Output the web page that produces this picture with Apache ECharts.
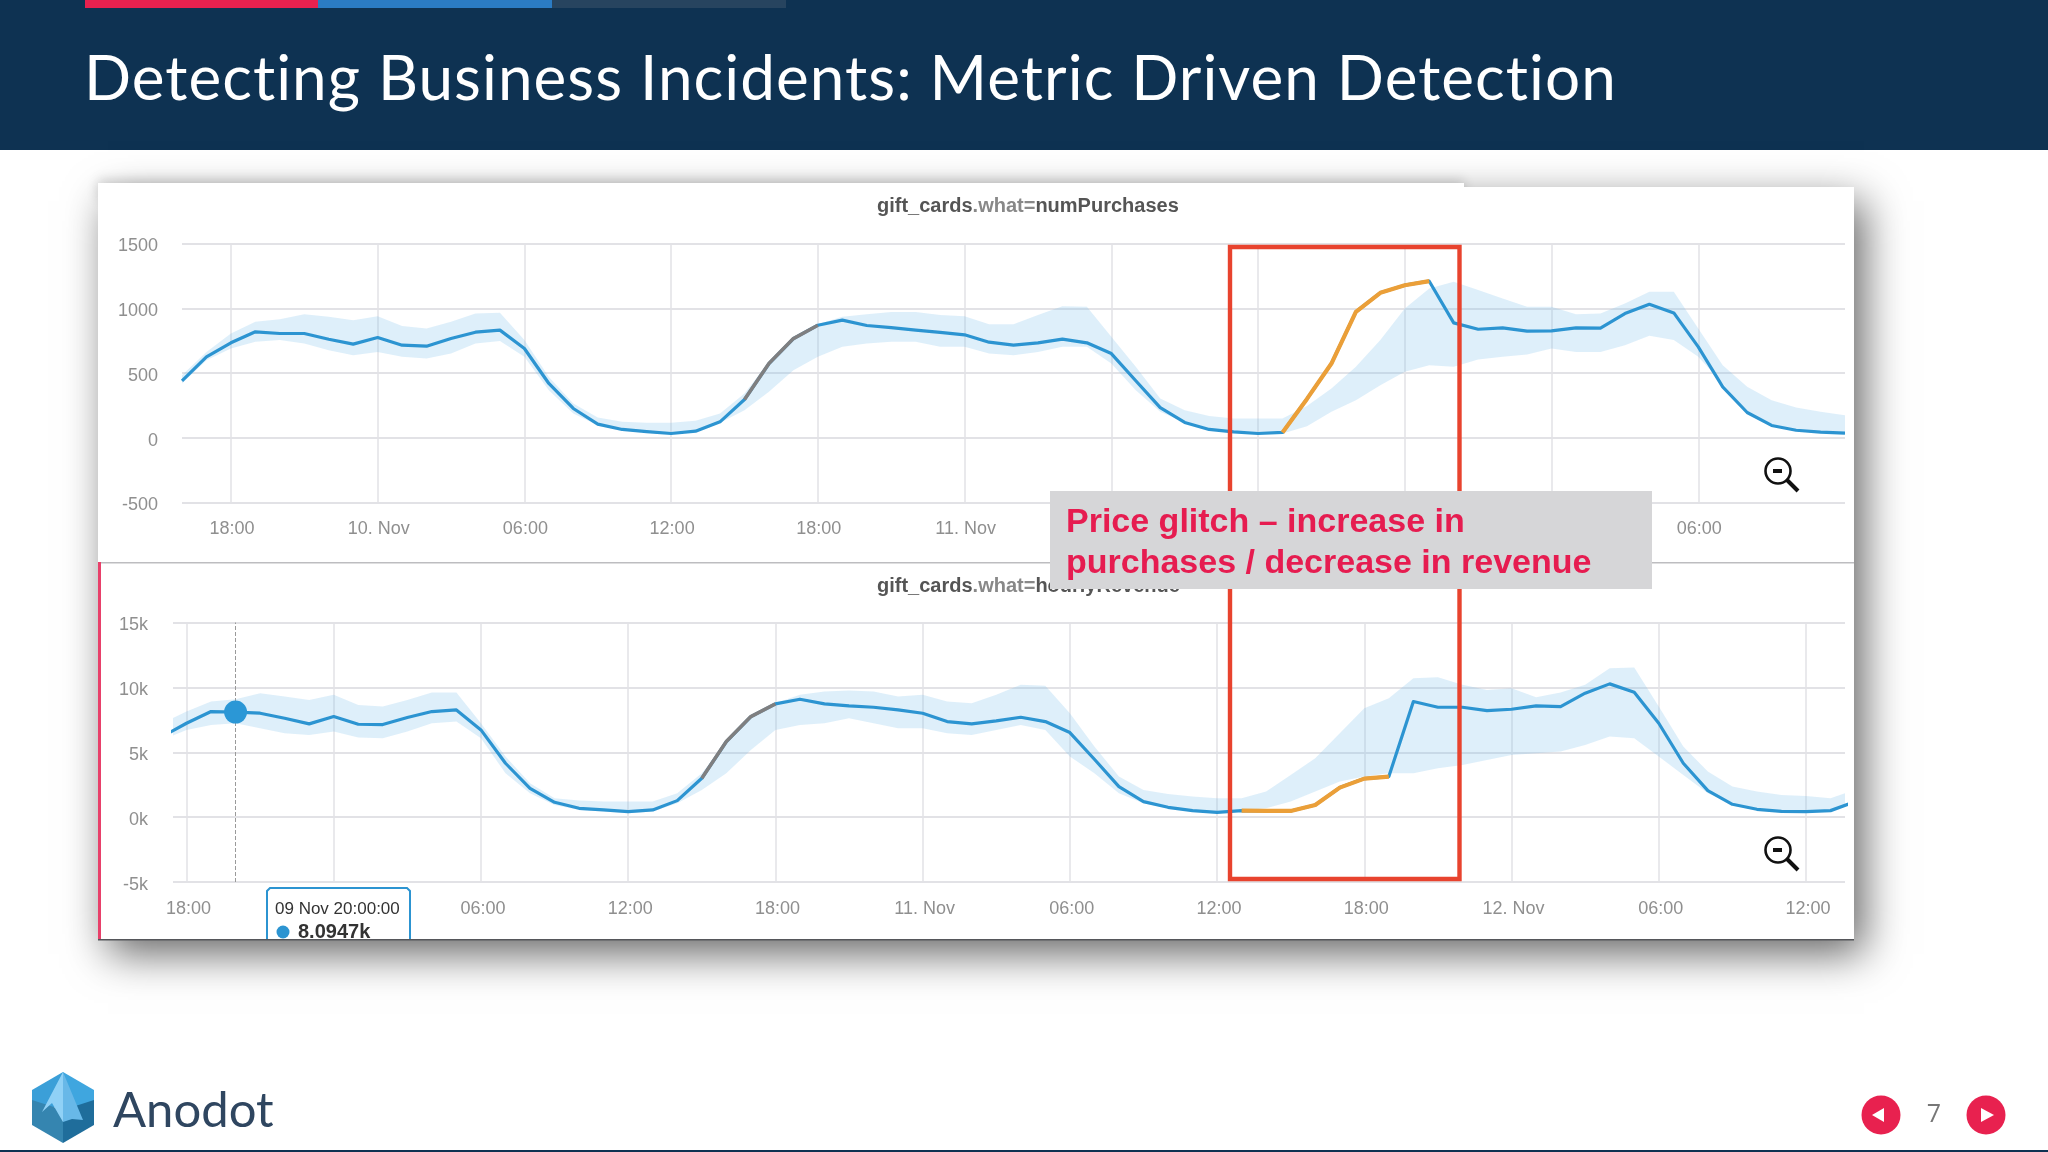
<!DOCTYPE html>
<html>
<head>
<meta charset="utf-8">
<title>Detecting Business Incidents</title>
<script src="https://cdn.jsdelivr.net/npm/echarts@6/dist/echarts.min.js"></script>
<style>
  html, body { margin: 0; padding: 0; background: #fff; }
  #main { width: 2048px; height: 1152px; }
  #slideTitle {
    position: absolute; left: 84px; top: 45px; margin: 0; white-space: nowrap;
    font: normal 62px/62px Lato, sans-serif; letter-spacing: 1.05px; color: #fff;
  }
</style>
</head>
<body>
<div id="main"></div>
<h1 id="slideTitle">Detecting Business Incidents: Metric Driven Detection</h1>
<script>
// hours are counted from 09 Nov 00:00
const tickHours = [18, 24, 30, 36, 42, 48, 54, 60, 66, 72, 78, 84]
const tickLabels = ['18:00', '10. Nov', '06:00', '12:00', '18:00', '11. Nov', '06:00', '12:00', '18:00', '12. Nov', '06:00', '12:00']

// numPurchases, hour 16 to 84
const purchasesStart = 16
const purchases = [
  440, 625, 733, 818, 805, 805, 761, 723, 774, 715,
  707, 766, 815, 831, 689, 419, 226, 105, 64, 48,
  33, 51, 123, 295, 573, 766, 869, 908, 867, 851,
  831, 813, 795, 738, 715, 733, 761, 733, 650, 440,
  233, 118, 64, 46, 33, 41, 300, 573, 972, 1119,
  1178, 1209, 887, 838, 849, 823, 825, 849, 846, 959,
  1031, 964, 702, 393, 195, 95, 58, 43, 35
]
const purchasesUpper = [
  483, 663, 805, 895, 916, 954, 934, 908, 939, 862,
  844, 895, 959, 965, 754, 470, 264, 156, 123, 115,
  115, 131, 187, 342, 586, 766, 877, 934, 954, 972,
  972, 947, 939, 877, 877, 947, 1016, 1011, 779, 548,
  303, 213, 167, 149, 149, 149, 246, 380, 548, 754,
  998, 1152, 1204, 1140, 1075, 1011, 1011, 954, 959, 1037,
  1127, 1127, 844, 560, 393, 290, 234, 200, 174
]
const purchasesLower = [
  419, 599, 689, 741, 754, 728, 676, 638, 663, 625,
  612, 651, 728, 748, 625, 367, 187, 97, 59, 43,
  28, 43, 115, 213, 355, 522, 625, 702, 728, 741,
  741, 702, 702, 651, 638, 663, 702, 702, 573, 367,
  200, 118, 64, 46, 33, 33, 89, 200, 290, 406,
  509, 560, 548, 604, 625, 643, 689, 663, 663, 715,
  787, 754, 625, 419, 195, 95, 58, 43, 33
]

// hourlyRevenue, hour 17 to 86
const revenueStart = 17
const revenue = [
  6200, 7237, 8136, 8094.7, 8008, 7622, 7185, 7751, 7159, 7134,
  7674, 8136, 8265, 6722, 4152, 2224, 1144, 681, 553, 424,
  553, 1272, 2995, 5823, 7751, 8728, 9087, 8728, 8573, 8470,
  8265, 8008, 7365, 7185, 7416, 7699, 7365, 6517, 4460, 2352,
  1195, 758, 501, 373, 501, 476, 476, 938, 2275, 2969,
  3123, 8907, 8470, 8470, 8213, 8316, 8573, 8522, 9550, 10270,
  9627, 7237, 4152, 2044, 990, 604, 450, 424, 501, 1195
]
const revenueUpper = [
  7237, 8136, 8907, 9087, 9550, 9293, 9036, 9422, 8650, 8522,
  9036, 9602, 9602, 7237, 4666, 2609, 1452, 1272, 1195, 1195,
  1195, 1838, 3380, 5823, 7751, 8779, 9422, 9679, 9756, 9679,
  9293, 9422, 8907, 8779, 9422, 10193, 10116, 8008, 5437, 3123,
  2095, 1787, 1581, 1452, 1452, 1967, 3252, 4537, 6465, 8393,
  9164, 10707, 10784, 10193, 9807, 9936, 9242, 9602, 10193, 11478,
  11530, 8522, 5437, 3509, 2352, 1967, 1710, 1632, 1452, 2095
]
const revenueLower = [
  5951, 6722, 7108, 7237, 6851, 6465, 6337, 6594, 6131, 6080,
  6594, 7237, 7365, 6080, 3380, 1838, 938, 553, 424, 296,
  424, 1067, 2095, 3380, 5180, 6722, 7108, 7237, 7622, 7237,
  6851, 6851, 6465, 6337, 6722, 7108, 6722, 4666, 3380, 1838,
  1067, 681, 476, 347, 501, 681, 1195, 1967, 2738, 3123,
  3380, 3380, 3766, 4023, 4409, 4794, 4923, 5051, 5566, 6208,
  6080, 4666, 3252, 1838, 990, 604, 450, 424, 501, 1195
]

// parts of the lines that are drawn in another colour [from hour, to hour]
const purchasesGray = [39, 42]
const purchasesOrange = [61, 67]
const revenueGray = [39, 42]
const revenueOrange = [61, 67]
const hoverHour = 20
const hoverValue = 8094.7

const BLUE = '#2c94d1'
const ORANGE = '#eb9f38'
const GRAY = '#7f7f80'
const BAND = 'rgba(118, 190, 236, 0.24)'
const GRID = '#e2e2e6'
const LABEL = '#8f8f8f'
const CRIMSON = '#e61c50'
const FONT = '"Liberation Sans", Arial, sans-serif'

function toPairs (values, start) {
  return values.map((v, i) => [start + i, v])
}

function segment (values, start, range) {
  return toPairs(values, start).filter(p => p[0] >= range[0] && p[0] <= range[1])
}

function lineSeries (idx, data, color, width, z) {
  return {
    type: 'line', xAxisIndex: idx, yAxisIndex: idx, data: data, symbol: 'none', silent: true,
    lineStyle: { color: color, width: width, join: 'round' }, z: z
  }
}

// the band is one polygon, drawn when the first row comes through
function bandSeries (idx, lower, upper, start) {
  return {
    type: 'custom', xAxisIndex: idx, yAxisIndex: idx, silent: true, clip: true, z: 2,
    data: lower.map((v, i) => [start + i, v, upper[i]]),
    encode: { x: 0, y: [1, 2] },
    renderItem: (params, api) => {
      if (params.dataIndex !== 0) return
      const top = upper.map((v, i) => api.coord([start + i, v]))
      const bottom = lower.map((v, i) => api.coord([start + i, v])).reverse()
      return { type: 'polygon', shape: { points: top.concat(bottom) }, style: { fill: BAND } }
    }
  }
}

function xAxis (idx, min, max, labelShift) {
  const shown = tickHours.filter(h => h < max)
  return {
    type: 'value', gridIndex: idx, min: min, max: max, z: 1,
    axisLine: { show: false },
    axisTick: { show: false, customValues: shown },
    axisLabel: {
      customValues: shown, color: LABEL, fontFamily: FONT, fontSize: 18, margin: 18,
      padding: [0, 0, 0, labelShift],
      formatter: v => tickLabels[tickHours.indexOf(v)]
    },
    splitLine: { show: true, lineStyle: { color: GRID, width: 1.5 } }
  }
}

function yAxis (idx, min, max, interval, fmt, margin) {
  return {
    type: 'value', gridIndex: idx, min: min, max: max, interval: interval, z: 1,
    axisLine: { show: false },
    axisTick: { show: false },
    axisLabel: {
      margin: margin,
      formatter: v => '{t|' + fmt(v) + '}',
      rich: { t: { color: LABEL, fontFamily: FONT, fontSize: 18, padding: [6, 0, 0, 0] } }
    },
    splitLine: { show: true, lineStyle: { color: GRID, width: 2 } }
  }
}

function chartTitle (top, metric) {
  return {
    left: 872, top: top,
    text: '{b|gift_cards}{n|.what=}{b|' + metric + '}',
    textStyle: {
      rich: {
        b: { fontFamily: FONT, fontSize: 20, fontWeight: 'bold', color: '#555' },
        n: { fontFamily: FONT, fontSize: 20, color: '#888' }
      }
    }
  }
}

// ---- slide furniture ----
function box (x, y, w, h, fill, z, extra) {
  return { type: 'rect', z: z, silent: true, shape: { x: x, y: y, width: w, height: h }, style: { fill: fill, ...extra } }
}
function label (x, y, text, font, fill, z, align) {
  return { type: 'text', z: z, silent: true, x: x, y: y, style: { text: text, font: font, fill: fill, textAlign: align || 'left', textVerticalAlign: 'middle' } }
}
function poly (points, fill, z) {
  return { type: 'polygon', z: z, silent: true, shape: { points: points }, style: { fill: fill } }
}
function zoomIcon (cx, cy) {
  return [
    { type: 'circle', z: 60, silent: true, shape: { cx: cx, cy: cy, r: 12.5 }, style: { fill: 'none', stroke: '#111', lineWidth: 2.6 } },
    { type: 'line', z: 60, silent: true, shape: { x1: cx + 9, y1: cy + 9, x2: cx + 20, y2: cy + 20 }, style: { stroke: '#111', lineWidth: 4 } },
    box(cx - 5, cy - 2, 9, 4, '#111', 60)
  ]
}

const slide = [
  box(0, 0, 2048, 150, '#0e3252', -3),
  box(85, 0, 233, 8, '#e8214f', -3),
  box(318, 0, 234, 8, '#2b7cc4', -3),
  box(552, 0, 234, 8, '#27445f', -3),
  // card: shadows first, then clean white on top of them
  box(98, 183, 1366, 20, '#ffffff', -3, { shadowBlur: 12, shadowColor: 'rgba(0,0,0,0.16)', shadowOffsetY: -3 }),
  box(98, 187, 1756, 753, '#ffffff', -2, { shadowBlur: 40, shadowColor: 'rgba(0,0,0,0.6)', shadowOffsetX: 10, shadowOffsetY: 14 }),
  box(98, 183, 1366, 20, '#ffffff', -1),
  box(98, 187, 1756, 753, '#ffffff', -1),
  box(98, 562, 1756, 1.5, '#bdbdc0', 1),
  box(98, 562, 3, 378, '#e8406a', 1),
  box(98, 939, 1756, 1.5, '#55565a', 1),
  // tooltip, cut by the card edge
  box(267, 888, 143, 51, '#ffffff', 50),
  { type: 'polyline', z: 51, silent: true, shape: { points: [[267, 939], [267, 891], [270, 888], [407, 888], [410, 891], [410, 939]] }, style: { fill: 'none', stroke: BLUE, lineWidth: 2 } },
  label(275, 909, '09 Nov 20:00:00', '17px ' + FONT, '#333333', 52),
  { type: 'circle', z: 52, silent: true, shape: { cx: 283, cy: 932, r: 6.5 }, style: { fill: BLUE } },
  label(298, 932, '8.0947k', 'bold 20px ' + FONT, '#333333', 52),
  ...zoomIcon(1778, 471),
  ...zoomIcon(1778, 850),
  // incident window
  { type: 'rect', z: 70, silent: true, shape: { x: 1230, y: 247, width: 229.5, height: 632 }, style: { fill: 'none', stroke: '#e8432e', lineWidth: 4.4 } },
  // annotation
  box(1050, 491, 602, 98, '#d6d6d8', 80),
  label(1066, 523, 'Price glitch – increase in', 'bold 34px ' + FONT, CRIMSON, 81),
  label(1066, 564, 'purchases / decrease in revenue', 'bold 34px ' + FONT, CRIMSON, 81),
  // logo
  poly([[63, 1107], [63, 1072], [32, 1090], [32, 1107]], '#3b9fd8', 1),
  poly([[63, 1107], [63, 1072], [94, 1090], [94, 1107]], '#3fa6df', 1),
  poly([[32, 1100], [63, 1110], [63, 1143], [32, 1125]], '#3585b0', 1),
  poly([[94, 1100], [63, 1110], [63, 1143], [94, 1125]], '#1f6d9b', 1),
  poly([[63, 1072], [42, 1112], [52, 1103], [63, 1122]], '#90d1f6', 2),
  poly([[63, 1072], [63, 1122], [72, 1119], [83, 1120]], '#68b8e8', 2),
  label(113, 1111, 'Anodot', '49px Lato, sans-serif', '#2f4660', 2),
  // page nav
  box(0, 1150, 2048, 2, '#0e3252', 1),
  { type: 'circle', z: 1, silent: true, shape: { cx: 1881, cy: 1115, r: 19.5 }, style: { fill: '#e8214f' } },
  poly([[1872, 1115], [1884, 1108], [1884, 1122]], '#ffffff', 2),
  { type: 'circle', z: 1, silent: true, shape: { cx: 1986, cy: 1115, r: 19.5 }, style: { fill: '#e8214f' } },
  poly([[1994, 1115], [1981, 1108], [1981, 1122]], '#ffffff', 2),
  label(1934, 1115, '7', '25px "Open Sans", sans-serif', '#777777', 2, 'center')
]

const chart = echarts.init(document.getElementById('main'), null, { width: 2048, height: 1152 })
chart.setOption({
  animation: false,
  backgroundColor: '#ffffff',
  title: [chartTitle(191, 'numPurchases'), chartTitle(571, 'hourlyRevenue')],
  grid: [
    { left: 182, top: 243.5, width: 1663, height: 259 },
    { left: 173, top: 622.5, width: 1672, height: 259.5 }
  ],
  xAxis: [xAxis(0, 16, 84, 2), xAxis(1, 17.45, 85.59, 4)],
  yAxis: [
    yAxis(0, -500, 1500, 500, v => v, 24),
    yAxis(1, -5000, 15000, 5000, v => (v / 1000) + 'k', 25)
  ],
  series: [
    bandSeries(0, purchasesLower, purchasesUpper, purchasesStart),
    lineSeries(0, toPairs(purchases, purchasesStart), BLUE, 3.2, 3),
    lineSeries(0, segment(purchases, purchasesStart, purchasesGray), GRAY, 3.6, 4),
    lineSeries(0, segment(purchases, purchasesStart, purchasesOrange), ORANGE, 4.2, 4),
    bandSeries(1, revenueLower, revenueUpper, revenueStart),
    lineSeries(1, toPairs(revenue, revenueStart), BLUE, 3.2, 3),
    lineSeries(1, segment(revenue, revenueStart, revenueGray), GRAY, 3.6, 4),
    lineSeries(1, segment(revenue, revenueStart, revenueOrange), ORANGE, 4.2, 4),
    {
      type: 'scatter', xAxisIndex: 1, yAxisIndex: 1, data: [[hoverHour, hoverValue]], symbolSize: 23, silent: true,
      itemStyle: { color: '#2b97d6', opacity: 1 }, z: 5,
      markLine: {
        silent: true, symbol: 'none', animation: false, label: { show: false },
        lineStyle: { color: '#9a9a9a', type: 'dashed', width: 1 },
        data: [{ xAxis: hoverHour }]
      }
    }
  ],
  graphic: { elements: slide }
})
</script>
</body>
</html>
